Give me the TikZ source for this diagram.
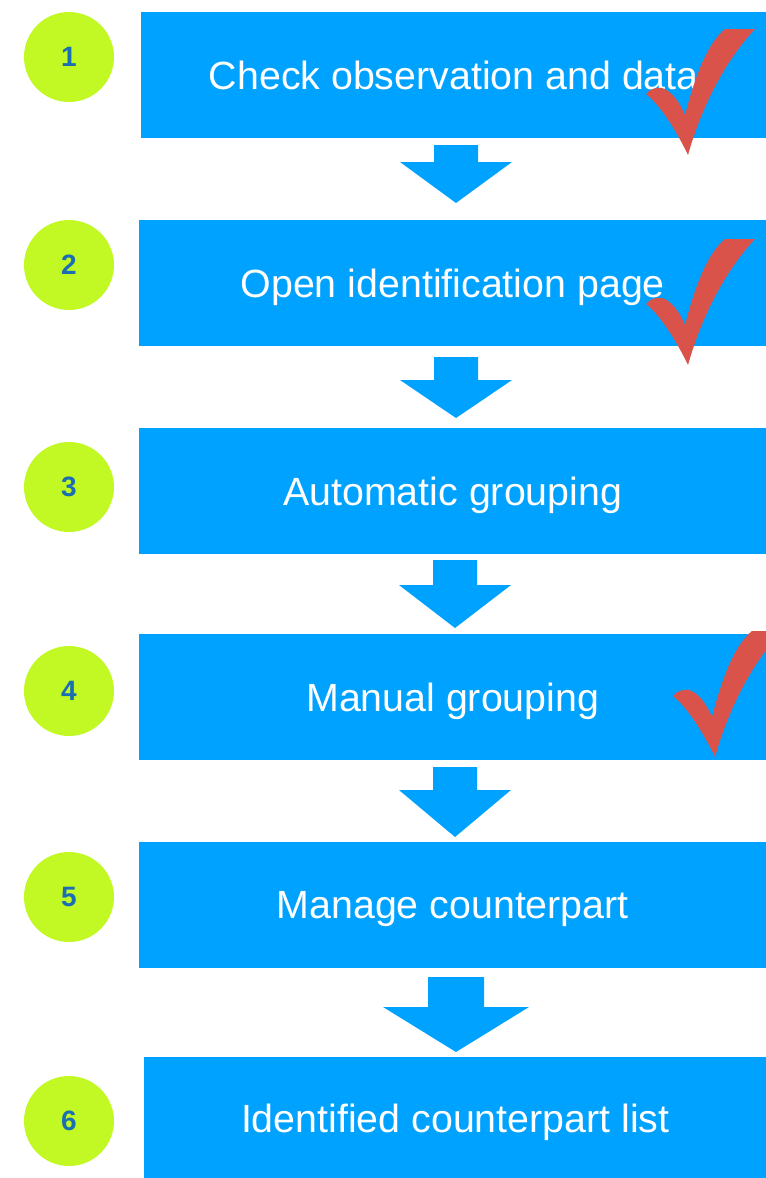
\documentclass[tikz,border=0pt]{standalone}
\usepackage{fontspec}
\setmainfont{Liberation Sans}
\definecolor{boxblue}{RGB}{0,162,255}
\definecolor{dotgreen}{RGB}{194,248,35}
\definecolor{numblue}{RGB}{25,110,180}
\definecolor{tickred}{RGB}{217,83,74}
\newcommand{\px}{0.75pt}

\begin{document}
\begin{tikzpicture}[x=\px, y=-\px,
        stepbox/.style = {rectangle, fill=boxblue, anchor=north west, inner sep=0pt,
            minimum width=627*\px, minimum height=126*\px, text depth=0pt,
            text=white, font=\fontsize{29.5}{34}\selectfont},
        numdot/.style = {circle, fill=dotgreen, minimum size=90*\px, inner sep=0pt,
            text=numblue, font=\fontsize{21}{24}\selectfont\bfseries},
        pics/downarrow/.style n args = {4}{code = {
            \fill[boxblue] (-#1,0) -- (#1,0) -- (#1,#2) -- (#3,#2) -- (0,#2+#4)
                -- (-#3,#2) -- (-#1,#2) -- cycle;}},
        pics/redtick/.style = {code = {
            \fill[tickred] (0,0) .. controls (-12,-25) and (-28,-50) .. (-42,-61)
                .. controls (-38,-66) and (-32,-68) .. (-26,-67)
                .. controls (-16,-64) and (-8,-52) .. (-3,-40)
                .. controls (8,-82) and (20,-112) .. (37,-126) -- (67,-126)
                .. controls (38,-95) and (14,-50) .. (0,0) -- cycle;}}]
        \useasboundingbox (0,0) rectangle (766,1178);

        \node (b1) [stepbox, minimum width=625*\px] at (141,12) {Check observation and data};
        \node (b2) [stepbox] at (139,220) {Open identification page};
        \node (b3) [stepbox] at (139,428) {Automatic grouping};
        \node (b4) [stepbox] at (139,634) {Manual grouping};
        \node (b5) [stepbox] at (139,842) {Manage counterpart};
        \node (b6) [stepbox, minimum width=622*\px, minimum height=121*\px] at (144,1057) {Identified counterpart list};

        \node (n1) [numdot] at (69,57) {1};
        \node (n2) [numdot] at (69,265) {2};
        \node (n3) [numdot] at (69,487) {3};
        \node (n4) [numdot] at (69,691) {4};
        \node (n5) [numdot] at (69,897) {5};
        \node (n6) [numdot] at (69,1121) {6};

        \pic at (456,145) {downarrow={22}{17}{56}{41}};
        \pic at (456,357) {downarrow={22}{23}{56}{38}};
        \pic at (455,560) {downarrow={22}{25}{56}{43}};
        \pic at (455,767) {downarrow={22}{23}{56}{47}};
        \pic at (456,977) {downarrow={28}{30}{73}{45}};

        \pic at (688,155) {redtick};
        \pic at (688,365) {redtick};
        \pic at (715,757) {redtick};
    \end{tikzpicture}
\end{document}
